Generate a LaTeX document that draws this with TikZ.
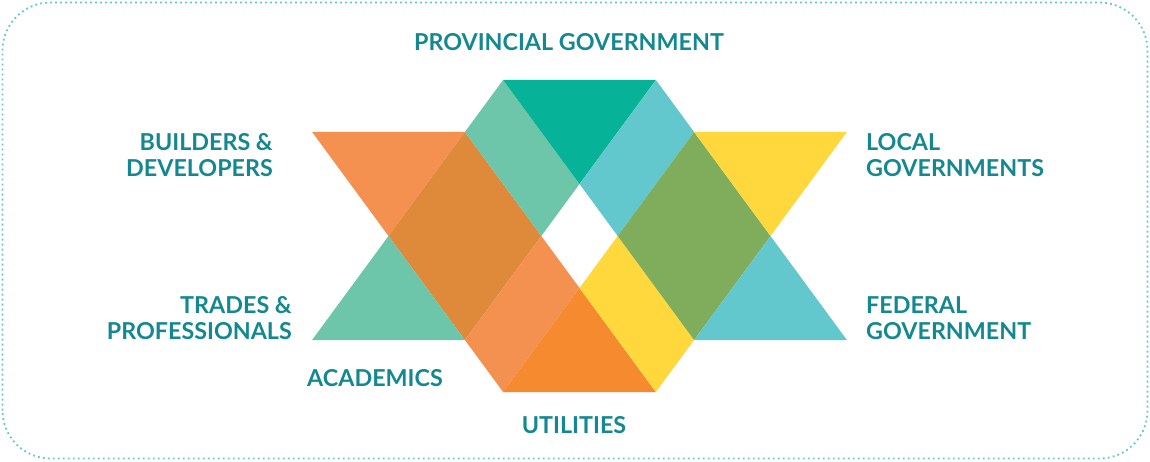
\documentclass[tikz,border=0pt]{standalone}
\usepackage{fontspec}
\setmainfont{Lato}

\definecolor{labelteal}{HTML}{138891}
\definecolor{framecyan}{HTML}{62C8CE}
\definecolor{paleorange}{HTML}{F49150}
\definecolor{burntorange}{HTML}{DF8A3B}
\definecolor{mint}{HTML}{6DC5AA}
\definecolor{deepteal}{HTML}{06B398}
\definecolor{skycyan}{HTML}{62C8CE}
\definecolor{brightorange}{HTML}{F58A2E}
\definecolor{sunyellow}{HTML}{FFD83E}
\definecolor{olive}{HTML}{80AD5C}

\tikzset{
  lbl/.style={text=labelteal, inner sep=0pt,
    font=\bfseries\fontsize{23.3}{26}\selectfont},
}

\begin{document}
\begin{tikzpicture}[x=1pt,y=1pt]
\useasboundingbox (0,0) rectangle (1150,461);
% dotted frame
\draw[framecyan, line width=1.8pt, dash pattern=on 1.8pt off 3.2pt,
  rounded corners=48pt] (2.5,2.5) rectangle (1147.5,458.5);

% the triangle pattern, on a grid of 38.2 x 52
\begin{scope}[shift={(579.5pt,225pt)}, x=38.2pt, y=52pt]
% left side
\fill[paleorange] (-7,2) -- (-3,2) -- (-5,0) -- cycle;
\fill[burntorange] (-3,2) -- (-1,0) -- (-3,-2) -- (-5,0) -- cycle;
\fill[mint] (-5,0) -- (-3,-2) -- (-7,-2) -- cycle;
% top
\fill[mint] (-3,2) -- (-2,3) -- (0,1) -- (-1,0) -- cycle;
\fill[deepteal] (-2,3) -- (2,3) -- (0,1) -- cycle;
\fill[skycyan] (2,3) -- (3,2) -- (1,0) -- (0,1) -- cycle;
% bottom
\fill[paleorange] (-1,0) -- (0,-1) -- (-2,-3) -- (-3,-2) -- cycle;
\fill[brightorange] (-2,-3) -- (2,-3) -- (0,-1) -- cycle;
\fill[sunyellow] (0,-1) -- (1,0) -- (3,-2) -- (2,-3) -- cycle;
% right side
\fill[olive] (3,2) -- (5,0) -- (3,-2) -- (1,0) -- cycle;
\fill[sunyellow] (3,2) -- (7,2) -- (5,0) -- cycle;
\fill[skycyan] (5,0) -- (7,-2) -- (3,-2) -- cycle;
\end{scope}

% stakeholder labels
\node[lbl] (prov) at (569,419) {PROVINCIAL GOVERNMENT};
\node[lbl, anchor=east, align=right] (build) at (273,306) {BUILDERS \&\\DEVELOPERS};
\node[lbl, anchor=east, align=right] (trades) at (292,143) {TRADES \&\\PROFESSIONALS};
\node[lbl] (acad) at (375,83) {ACADEMICS};
\node[lbl] (util) at (574,36) {UTILITIES};
\node[lbl, anchor=west, align=left] (local) at (866,306) {LOCAL\\GOVERNMENTS};
\node[lbl, anchor=west, align=left] (federal) at (866,143) {FEDERAL\\GOVERNMENT};
\end{tikzpicture}
\end{document}
